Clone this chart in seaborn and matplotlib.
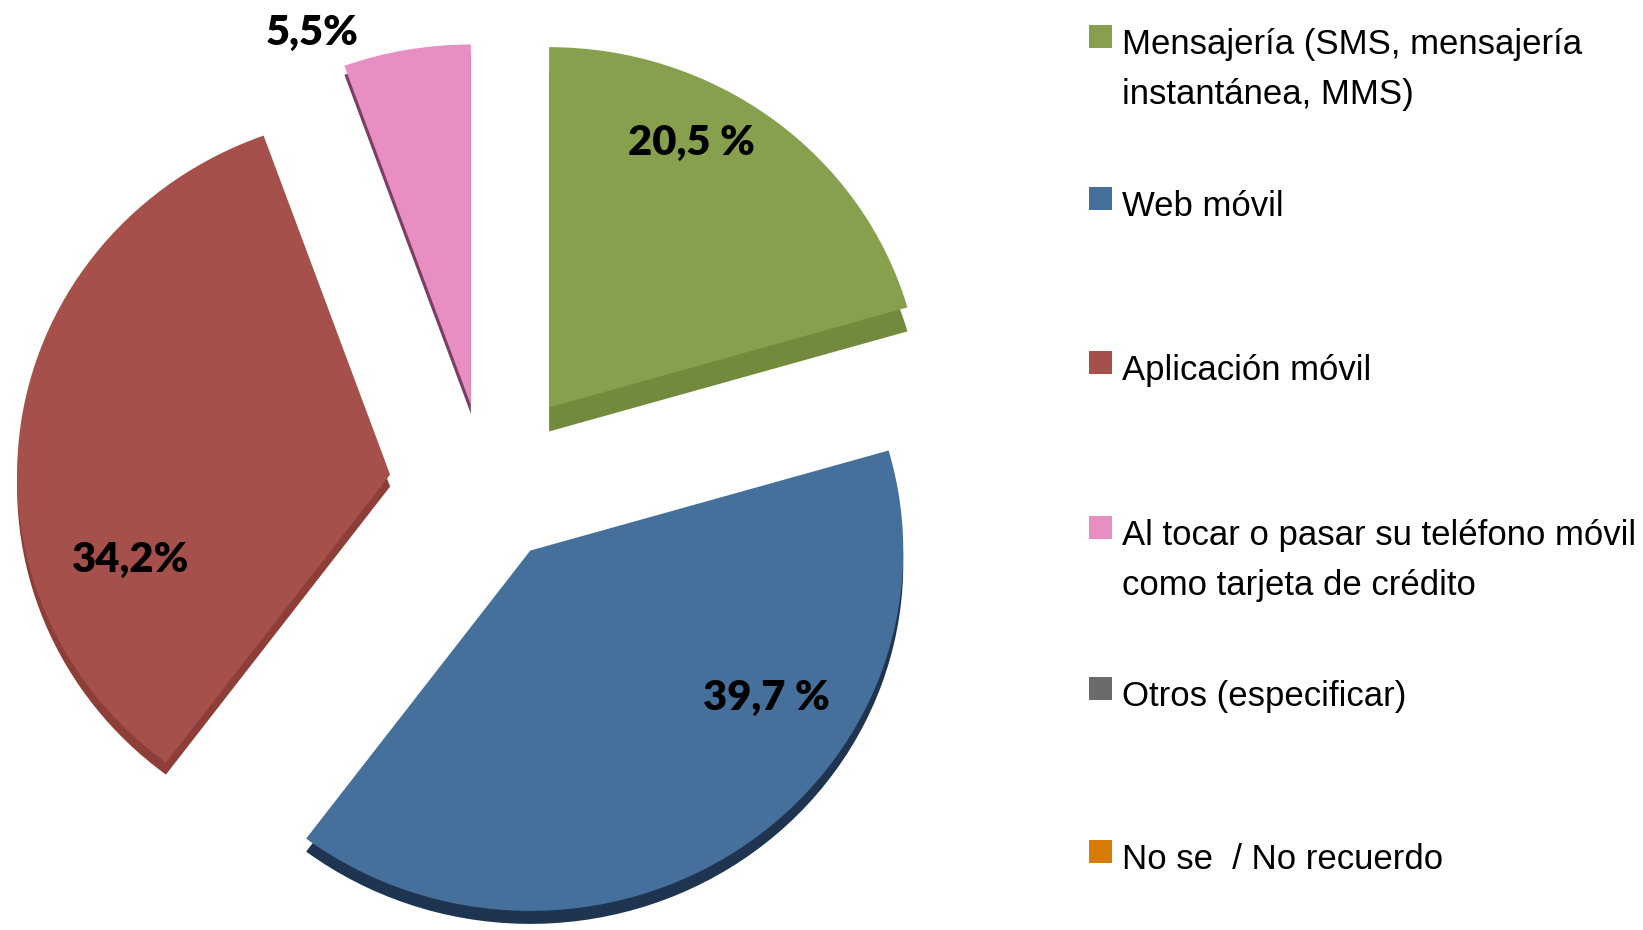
import matplotlib
matplotlib.use("Agg")
import matplotlib.pyplot as plt
from matplotlib.patches import Rectangle
import seaborn as sns

# ---- data ----
categories = [
    "Mensajería (SMS, mensajería\ninstantánea, MMS)",
    "Web móvil",
    "Aplicación móvil",
    "Al tocar o pasar su teléfono móvil\ncomo tarjeta de crédito",
    "Otros (especificar)",
    "No se  / No recuerdo",
]
values = [20.5, 39.7, 34.2, 5.5, 0.0, 0.0]
value_labels = ["20,5 %", "39,7 %", "34,2%", "5,5%", "", ""]

face_colors = ["#86A04E", "#45709C", "#A6504C", "#E88EC3", "#6B6B6B", "#D97A0B"]
side_colors = ["#718A3B", "#1E3450", "#8E3E38", "#7A3F62", "#4A4A4A", "#A85D08"]

sns.set_theme(style="white")
plt.rcParams["font.family"] = ["Liberation Sans", "DejaVu Sans"]

W, H = 1643, 930
K = 0.966  # vertical squash (3D tilt)
fig = plt.figure(figsize=(W / 100, H / 100), dpi=100)
fig.patch.set_facecolor("white")

ax = fig.add_axes([0, 0, 1, 1])
center = (486, 457)
radius = 373
explode_amt = [105, 78, 97, 88, 0, 0]
depths = [24, 13, 12, 9, 0, 0]

mask = [v > 0 for v in values]
vals = [v for v, m in zip(values, mask) if m]
expl = [e for e, m in zip(explode_amt, mask) if m]
pal_face = sns.color_palette([c for c, m in zip(face_colors, mask) if m])
pal_side = sns.color_palette([c for c, m in zip(side_colors, mask) if m])
deps = [d for d, m in zip(depths, mask) if m]

# side (depth) layer
side_wedges, _ = ax.pie(vals, explode=expl, colors=pal_side, startangle=90,
                        counterclock=False, center=center, radius=radius,
                        wedgeprops=dict(linewidth=0))
for w, d in zip(side_wedges, deps):
    cx, cy = w.center
    w.set_center((cx, cy - d / K))

# top face
top_wedges, _ = ax.pie(vals, explode=expl, colors=pal_face, startangle=90,
                       counterclock=False, center=center, radius=radius,
                       wedgeprops=dict(linewidth=0))
ax.set_aspect("auto")
ax.set_xlim(0, W)
ax.set_ylim(0, H / K)
ax.axis("off")

# overlay axes in image pixel coordinates for texts and legend
ov = fig.add_axes([0, 0, 1, 1])
ov.set_xlim(0, W)
ov.set_ylim(H, 0)
ov.axis("off")
ov.patch.set_alpha(0)

label_pos = [(691, 143), (766, 698), (131, 560), (312, 33)]
for lab, (x, y) in zip(value_labels, label_pos):
    ov.text(x, y, lab, ha="center", va="center", fontsize=30,
            fontweight="heavy", family=["Lato", "DejaVu Sans"], color="black")

# legend
baselines = [54, 216, 380, 545, 706, 869]
for cat, col, b in zip(categories, face_colors, baselines):
    ov.add_patch(Rectangle((1089, b - 29), 23, 23, facecolor=col, edgecolor="none"))
    for i, line in enumerate(cat.split("\n")):
        ov.text(1122, b + i * 50, line, ha="left", va="baseline", fontsize=25,
                color="black")

fig.savefig("out.png", dpi=100, facecolor="white")
